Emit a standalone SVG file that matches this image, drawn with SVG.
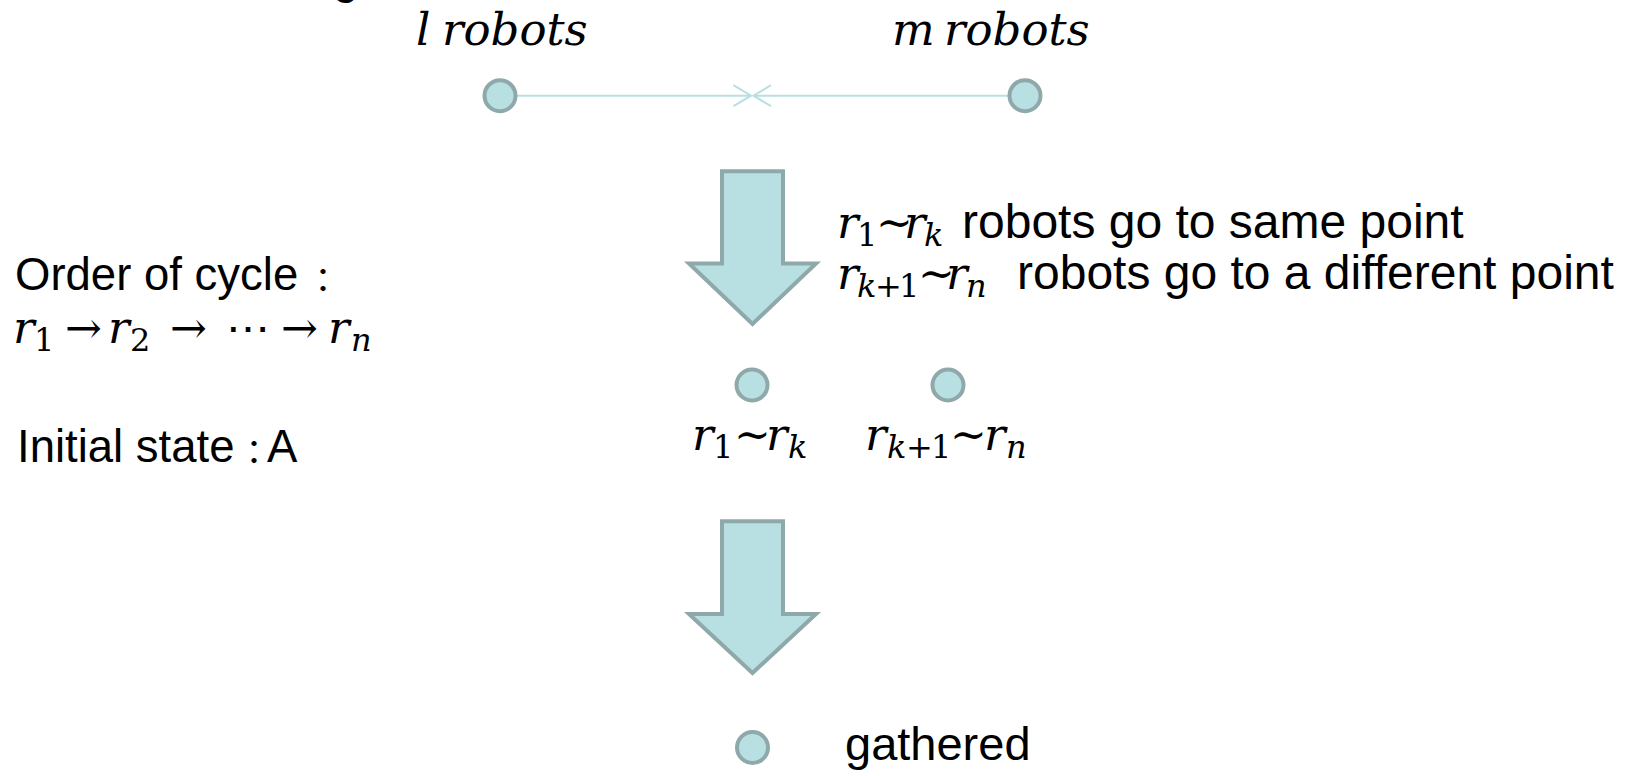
<svg xmlns="http://www.w3.org/2000/svg" width="1627" height="776" viewBox="0 0 1627 776">
<defs>
<style>
.bg{fill:#ffffff}
.node{fill:#b8dfe2;stroke:#8fa9aa;stroke-width:4}
.bigarrow{fill:#b8dfe2;stroke:#8fa9aa;stroke-width:4;stroke-linejoin:miter}
.conn{stroke:#b8dfe2;stroke-width:2;fill:none}
.txt{font-family:"Liberation Sans",Arial,sans-serif;fill:#000}
.math{font-family:"DejaVu Serif","Liberation Serif",serif;font-style:italic;fill:#000;font-size:45px}
.up{font-style:normal}
.sub{font-size:32px}
.op{font-style:normal;font-size:44px}
.arr{font-style:normal;font-size:44px}
.cjk{font-family:"Noto Sans CJK JP","Noto Sans CJK SC",sans-serif;font-size:34px}
</style>
<marker id="openhead" viewBox="-20 -12 22 24" refX="0" refY="0" markerWidth="22" markerHeight="24" markerUnits="userSpaceOnUse" orient="auto">
<path d="M-17.5,-10.5 L0,0 L-17.5,10.5" fill="none" stroke="#b8dfe2" stroke-width="2"/>
</marker>
</defs>
<rect class="bg" x="0" y="0" width="1627" height="776"/>

<g id="title-fragment">
<text class="txt" x="333" y="-7" font-size="46">g</text>
</g>

<g id="connectors">
<line class="conn" x1="517" y1="95.7" x2="751" y2="95.7" marker-end="url(#openhead)"/>
<line class="conn" x1="1008" y1="95.7" x2="753.5" y2="95.7" marker-end="url(#openhead)"/>
</g>

<g id="node-l-robots">
<ellipse class="node" cx="500" cy="95.7" rx="15.5" ry="15.5"/>
<text class="math" y="45" font-size="44.5"><tspan x="416">l</tspan><tspan x="442">robots</tspan></text>
</g>

<g id="node-m-robots">
<ellipse class="node" cx="1025" cy="95.7" rx="15.5" ry="15.5"/>
<text class="math" y="45" font-size="44.5"><tspan x="892">m</tspan><tspan x="944">robots</tspan></text>
</g>

<g id="step-arrow-1">
<path class="bigarrow" d="M722,171.3 H783 V263.5 H816 L752.5,324 L689,263.5 H722 Z"/>
</g>

<g id="step-text-1">
<text class="math" y="238"><tspan x="837">r</tspan><tspan class="up sub" x="857" dy="8">1</tspan><tspan class="op" x="876" dy="-8">~</tspan><tspan x="904">r</tspan><tspan class="sub" x="924" dy="8">k</tspan></text>
<text class="txt" x="962" y="238" font-size="48">robots go to same point</text>
<text class="math" y="289"><tspan x="837">r</tspan><tspan class="sub" x="857" dy="8">k</tspan><tspan class="up sub" x="875">+</tspan><tspan class="up sub" x="899">1</tspan><tspan class="op" x="918" dy="-8">~</tspan><tspan x="946">r</tspan><tspan class="sub" x="966" dy="8">n</tspan></text>
<text class="txt" x="1017" y="289" font-size="48">robots go to a different point</text>
</g>

<g id="cycle-info">
<text class="txt" x="15" y="290" font-size="45.5">Order of cycle</text>
<text class="cjk" x="306" y="293">：</text>
<text class="math" y="343"><tspan x="13">r</tspan><tspan class="up sub" x="34" dy="8">1</tspan><tspan class="arr" x="65" dy="-8">→</tspan><tspan x="108">r</tspan><tspan class="up sub" x="130" dy="8">2</tspan><tspan class="arr" x="170" dy="-8">→</tspan><tspan class="arr" x="226">⋯</tspan><tspan class="arr" x="281">→</tspan><tspan x="328">r</tspan><tspan class="sub" x="351" dy="8">n</tspan></text>
<text class="txt" x="17" y="462" font-size="45.5">Initial state</text>
<text class="cjk" x="237" y="465">：</text>
<text class="txt" x="267" y="462" font-size="45.5">A</text>
</g>

<g id="node-r1-rk">
<ellipse class="node" cx="752" cy="385" rx="15.5" ry="15.5"/>
<text class="math" y="450"><tspan x="692">r</tspan><tspan class="up sub" x="713" dy="8">1</tspan><tspan class="op" x="734" dy="-8">~</tspan><tspan x="766">r</tspan><tspan class="sub" x="788" dy="8">k</tspan></text>
</g>

<g id="node-rk1-rn">
<ellipse class="node" cx="948" cy="385" rx="15.5" ry="15.5"/>
<text class="math" y="450"><tspan x="865">r</tspan><tspan class="sub" x="887" dy="8">k</tspan><tspan class="up sub" x="906">+</tspan><tspan class="up sub" x="931">1</tspan><tspan class="op" x="950" dy="-8">~</tspan><tspan x="984">r</tspan><tspan class="sub" x="1006" dy="8">n</tspan></text>
</g>

<g id="step-arrow-2">
<path class="bigarrow" d="M722,521.3 H783 V614 H816 L752.5,673 L689,614 H722 Z"/>
</g>

<g id="node-gathered">
<ellipse class="node" cx="752.5" cy="747.5" rx="15.5" ry="15.5"/>
<text class="txt" x="845" y="760" font-size="47">gathered</text>
</g>
</svg>
